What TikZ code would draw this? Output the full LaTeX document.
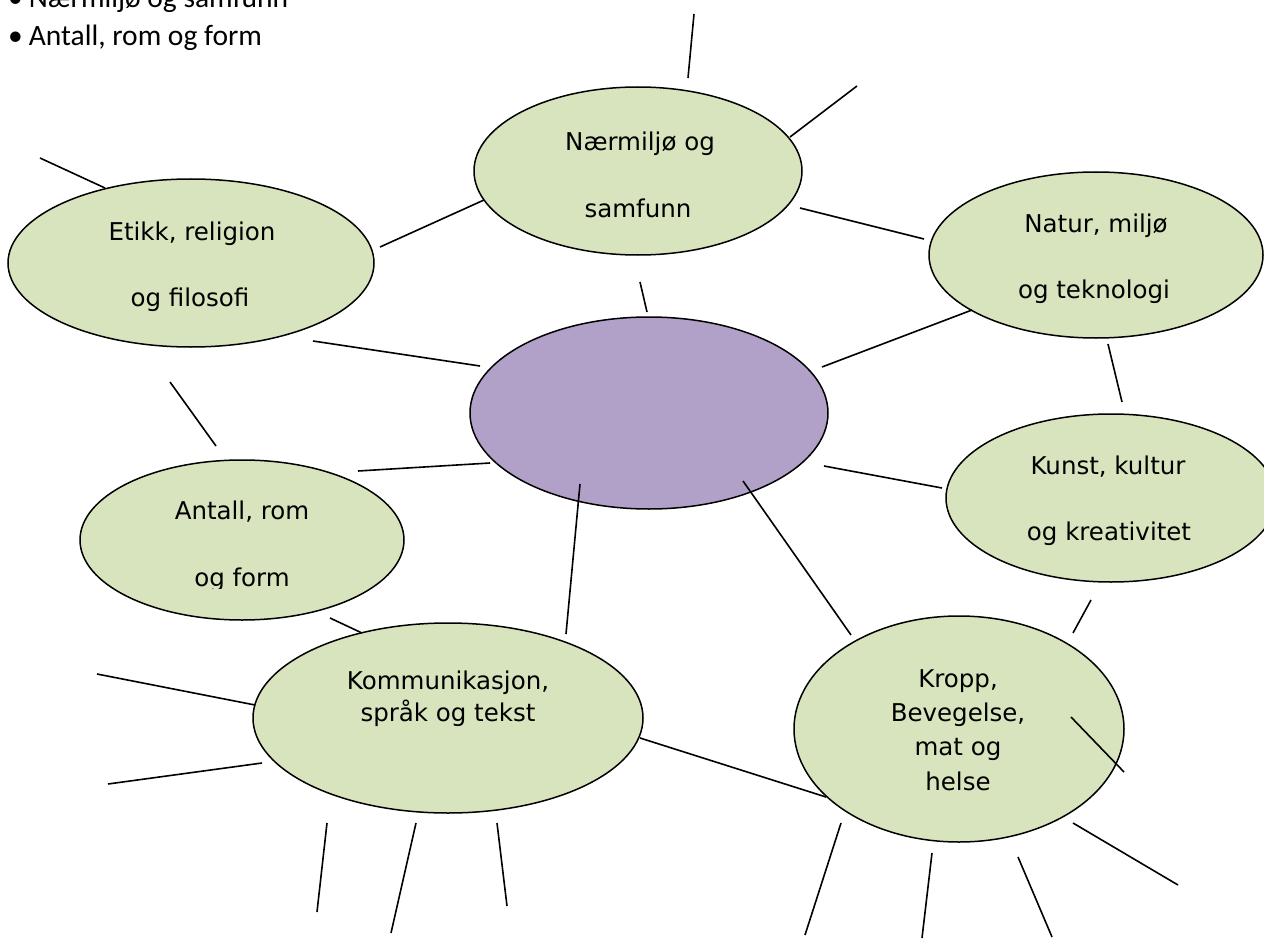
\documentclass[tikz,border=0pt]{standalone}
\usepackage{fontspec}
\setmainfont{DejaVu Sans}
\newfontfamily\bulletfont{Carlito}
\usetikzlibrary{shapes.geometric}
\definecolor{topicgreen}{HTML}{D7E4BD}
\definecolor{corepurple}{HTML}{B1A0C7}
\tikzset{
  topic/.style={ellipse, draw=black, line width=1.5pt, fill=topicgreen, inner sep=0pt},
  core/.style={ellipse, draw=black, line width=1.5pt, fill=corepurple, inner sep=0pt},
  ltext/.style={font=\fontsize{24.5}{34}\selectfont, align=center, anchor=base, inner sep=0pt},
  spoke/.style={line width=1.6pt, black},
  bul/.style={font=\bulletfont\fontsize{29.5}{32}\selectfont, anchor=base west, inner sep=0pt}
}
\begin{document}
\begin{tikzpicture}[x=1pt,y=-1pt]
\useasboundingbox (0,0) rectangle (1264,939);
\clip (0,0) rectangle (1264,939);
% bullet list
\node[bul] (b1) at (8,8) {\textbullet\hspace{6pt}Nærmiljø og samfunn};
\node[bul] (b2) at (8,46) {\textbullet\hspace{6pt}Antall, rom og form};
% ellipses
\node[topic, minimum width=328pt, minimum height=168pt] (naer) at (638,171) {};
\node[topic, minimum width=366pt, minimum height=168pt] (etikk) at (191,263) {};
\node[topic, minimum width=334pt, minimum height=166pt] (natur) at (1096,255) {};
\node[core, minimum width=358pt, minimum height=192pt] (center) at (649,413) {};
\node[topic, minimum width=330pt, minimum height=168pt] (kunst) at (1111,498) {};
\node[topic, minimum width=324pt, minimum height=160pt] (antall) at (242,540) {};
\node[topic, minimum width=390pt, minimum height=190pt] (komm) at (448,718) {};
\node[topic, minimum width=330pt, minimum height=226pt] (kropp) at (959,729) {};
% texts
\node[ltext] (tnaer1) at (640,151) {Nærmiljø og};
\node[ltext] (tnaer2) at (638,217) {samfunn};
\node[ltext] (tetikk1) at (192,240) {Etikk, religion};
\node[ltext] (tetikk2) at (190,306) {og filosofi};
\node[ltext] (tnatur1) at (1096,232) {Natur, miljø};
\node[ltext] (tnatur2) at (1094,298) {og teknologi};
\node[ltext] (tkunst1) at (1108,474) {Kunst, kultur};
\node[ltext] (tkunst2) at (1109,540) {og kreativitet};
\node[ltext] (tantall1) at (242,519) {Antall, rom};
\begin{scope}
\clip (150,550) rectangle (340,588);
\node[ltext] (tantall2) at (242,586) {og form};
\end{scope}
\node[ltext, font=\fontsize{24.5}{32}\selectfont] (tkomm) at (448,721) {Kommunikasjon,\\språk og tekst};
\node[ltext, font=\fontsize{24.5}{34.3}\selectfont] (tkropp) at (958,790) {Kropp,\\Bevegelse,\\mat og\\helse};
% spokes
\foreach \n/\a/\b in {
  1/{688,78}/{694,14},
  2/{790,137}/{857,86},
  3/{380,247}/{484,200},
  4/{800,208}/{924,239},
  5/{640,282}/{647,312},
  6/{40,158}/{105,188},
  7/{313,341}/{480,366},
  8/{822,367}/{972,310},
  9/{1108,344}/{1122,402},
  10/{170,382}/{216,446},
  11/{358,471}/{490,463},
  12/{824,466}/{942,488},
  13/{580,484}/{566,634},
  14/{743,481}/{851,635},
  15/{1091,600}/{1073,633},
  16/{330,618}/{362,633},
  17/{97,674}/{255,705},
  18/{108,784}/{262,763},
  19/{640,738}/{826,797},
  20/{1071,717}/{1124,772},
  21/{327,823}/{317,912},
  22/{416,823}/{391,933},
  23/{497,823}/{507,906},
  24/{841,823}/{805,935},
  25/{932,853}/{922,938},
  26/{1018,857}/{1052,937},
  27/{1073,823}/{1178,885}} {
  \coordinate (s\n a) at (\a);
  \coordinate (s\n b) at (\b);
  \draw[spoke] (s\n a) -- (s\n b);
}
\end{tikzpicture}
\end{document}
